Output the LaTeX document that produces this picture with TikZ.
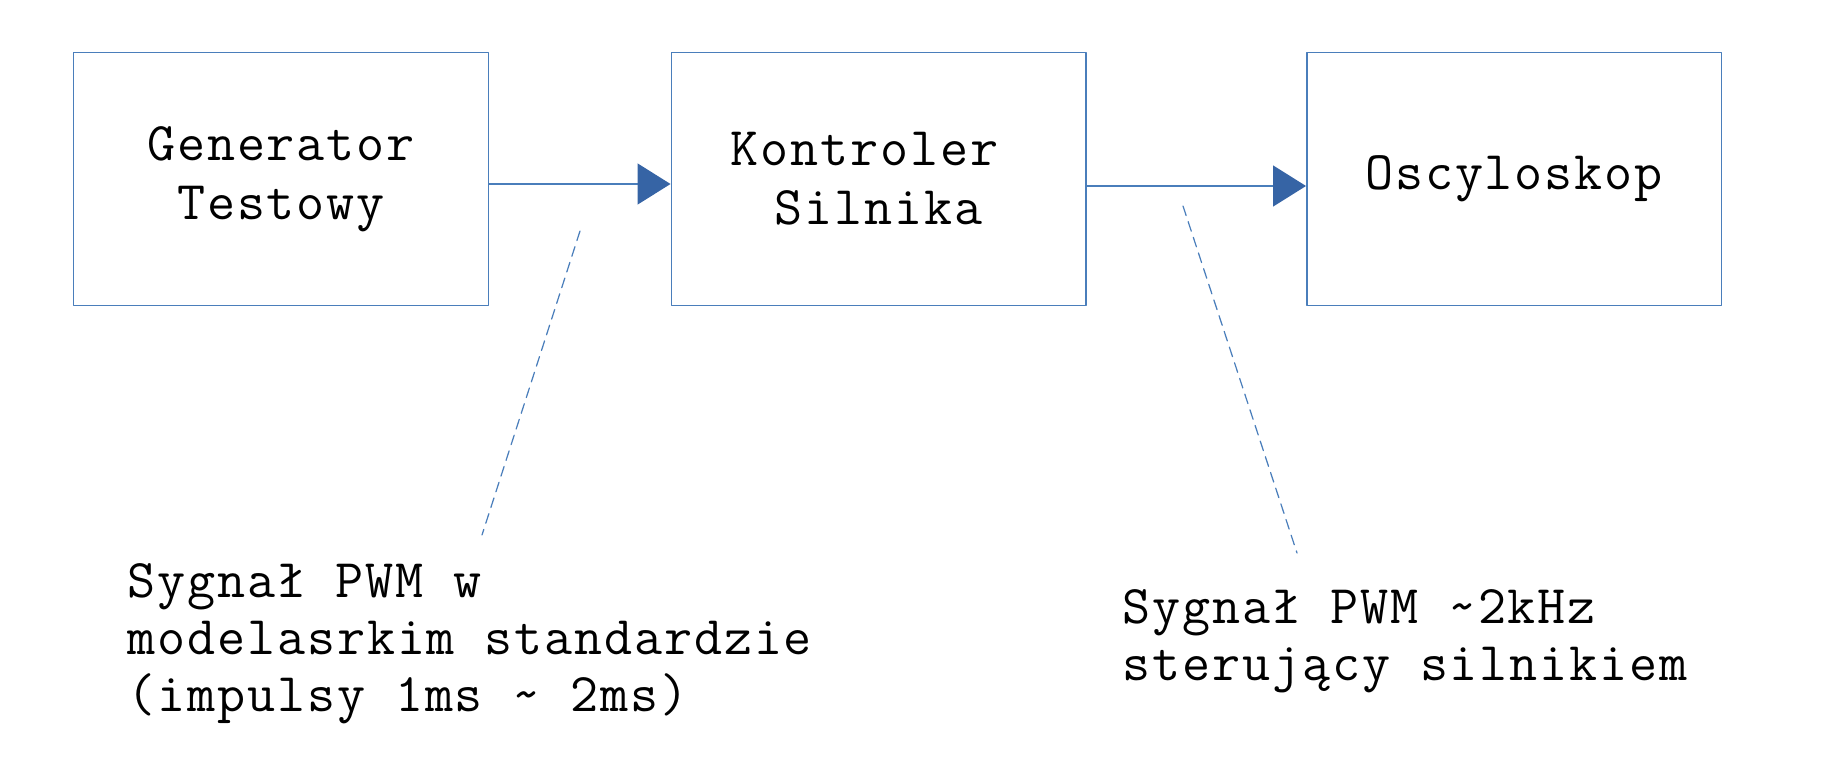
\documentclass[tikz,border=0pt]{standalone}
\usepackage{fontspec}
\setmonofont{Latin Modern Mono}[LetterSpace=3.4]
\usetikzlibrary{arrows.meta}
\definecolor{ramka}{RGB}{74,126,187}
\definecolor{grot}{RGB}{54,100,165}

\begin{document}
\begin{tikzpicture}[line cap=round,line join=round,
      blok/.style={draw=ramka,line width=0.85pt,minimum width=8.29cm,minimum height=5.06cm,
                   inner sep=0pt,align=center,font=\fontsize{31}{33.5}\selectfont\ttfamily},
      opis/.style={inner sep=0pt,align=left,anchor=north west,font=\fontsize{31}{32.4}\selectfont\ttfamily},
      sygnal/.style={draw=ramka,line width=0.85pt,-{Triangle[length=0.66cm,width=0.82cm,color=grot,fill=grot]}},
      odnosnik/.style={draw=ramka,line width=0.7pt,dash pattern=on 0.2cm off 0.13cm}]
      \useasboundingbox (0,0) rectangle (36.72,15.66);

      \node[blok] (gen) at (5.62,12.08) {Generator\\Testowy};
      \node[blok] (kontr) at (17.57,12.08) {Kontroler\phantom{x}\\Silnika};
      \node[blok] (osc) at (30.28,12.08) {Oscyloskop};

      \draw[sygnal] ([yshift=-0.1cm]gen.east) -- ([yshift=-0.1cm]kontr.west);
      \draw[sygnal] ([yshift=-0.14cm]kontr.east) -- ([yshift=-0.14cm]osc.west);

      \node[opis] (pwm1) at (2.55,4.40) {Sygnał PWM w\\modelasrkim standardzie\\(impulsy 1ms \textasciitilde{} 2ms)};
      \node[opis] (pwm2) at (22.45,3.88) {Sygnał PWM \textasciitilde{}2kHz\\sterujący silnikiem};

      \coordinate (a1) at (11.60,11.04);
      \coordinate (a2) at (9.64,4.96);
      \coordinate (b1) at (23.66,11.54);
      \coordinate (b2) at (25.94,4.60);
      \draw[odnosnik] (a1)--(a2) (b1)--(b2);
\end{tikzpicture}
\end{document}
